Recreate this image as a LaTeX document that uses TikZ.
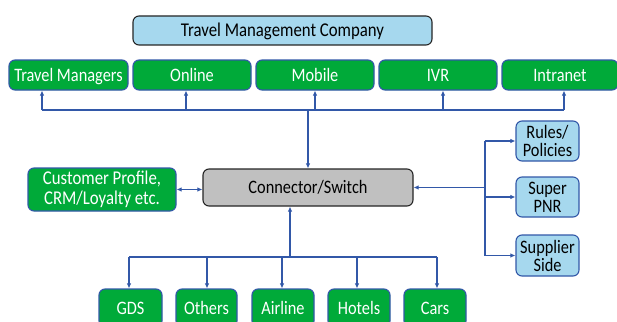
\documentclass[tikz,border=0pt]{standalone}
\usepackage{fontspec}
\setmainfont{Carlito}[FakeStretch=0.86]
\usetikzlibrary{arrows.meta}
\definecolor{gfill}{RGB}{0,170,57}
\definecolor{bline}{RGB}{50,88,168}
\definecolor{lblue}{RGB}{166,216,238}
\definecolor{gfillsw}{RGB}{192,192,192}
\tikzset{
  base/.style={rounded corners=6pt, line width=1.1pt, inner sep=0pt, align=center, font=\fontsize{19}{20}\selectfont},
  oneline/.style={text height=13pt, text depth=0.8pt},
  gbox/.style={base, fill=gfill, draw=bline, text=white},
  bbox/.style={base, fill=lblue, draw=bline, text=black},
  conn/.style={draw=bline, line width=1.1pt},
  arr/.style={conn, -{Latex[length=5pt,width=4.5pt]}},
  darr/.style={conn, {Latex[length=5pt,width=4.5pt]}-{Latex[length=5pt,width=4.5pt]}},
}
\begin{document}
\begin{tikzpicture}[x=1pt,y=-1pt]
\clip (0,0) rectangle (617,321);
\fill[white] (0,0) rectangle (617,321);
% top
\node[base, oneline, fill=lblue, draw=black!85, minimum width=299pt, minimum height=29pt, font=\fontsize{19.5}{20}\selectfont] (tmc) at (282.5,30.5) {Travel Management Company};
\node[gbox, oneline, minimum width=119pt, minimum height=30pt] (tm) at (68.5,75) {Travel Managers};
\node[gbox, oneline, minimum width=118pt, minimum height=30pt] (on) at (192,75) {Online};
\node[gbox, oneline, minimum width=118pt, minimum height=30pt] (mo) at (315,75) {Mobile};
\node[gbox, oneline, minimum width=118pt, minimum height=30pt] (ivr) at (438,75) {IVR};
\node[gbox, oneline, minimum width=116pt, minimum height=30pt] (intra) at (560,75) {Intranet};
% middle
\node[gbox, minimum width=148pt, minimum height=43pt, font=\fontsize{19.5}{20}\selectfont] (cust) at (102,189.5) {Customer Profile,\\CRM/Loyalty etc.};
\node[base, oneline, fill=gfillsw, draw=black!85, minimum width=210pt, minimum height=37pt] (sw) at (308,187.5) {Connector/Switch};
\node[bbox, minimum width=63pt, minimum height=40pt, font=\fontsize{19}{18}\selectfont] (rules) at (547.5,141) {Rules/\\Policies};
\node[bbox, minimum width=63pt, minimum height=40pt, font=\fontsize{19}{18}\selectfont] (super) at (547.5,197) {Super\\PNR};
\node[bbox, minimum width=63pt, minimum height=41pt, font=\fontsize{19}{18}\selectfont] (supp) at (547.5,255.5) {Supplier\\Side};
% bottom
\node[gbox, oneline, minimum width=63pt, minimum height=38pt] (gds) at (130.5,308) {GDS};
\node[gbox, oneline, minimum width=61pt, minimum height=38pt] (oth) at (206.5,308) {Others};
\node[gbox, oneline, minimum width=62pt, minimum height=38pt] (air) at (283,308) {Airline};
\node[gbox, oneline, minimum width=62pt, minimum height=38pt] (hot) at (359,308) {Hotels};
\node[gbox, oneline, minimum width=62pt, minimum height=38pt] (cars) at (435,308) {Cars};
% top bus
\coordinate (t1) at (42,110);
\coordinate (t2) at (186,110);
\coordinate (t3) at (315,110);
\coordinate (t4) at (443,110);
\coordinate (t5) at (564,110);
\draw[conn] (t1) -- (t5);
\draw[arr] (t1) -- (t1 |- tm.south);
\draw[arr] (t2) -- (t2 |- on.south);
\draw[arr] (t3) -- (t3 |- mo.south);
\draw[arr] (t4) -- (t4 |- ivr.south);
\draw[arr] (t5) -- (t5 |- intra.south);
\draw[arr] (sw.north |- t1) -- (sw.north);
% customer
\draw[darr] (cust.east) -- (cust.east -| sw.west);
% right
\coordinate (rv) at (485,187.5);
\draw[conn] (rv |- rules.west) -- (rv |- supp.west);
\draw[arr] (rv) -- (sw.east);
\draw[arr] (rv |- rules.west) -- (rules.west);
\draw[arr] (rv |- super.west) -- (super.west);
\draw[arr] (rv |- supp.west) -- (supp.west);
% bottom bus
\coordinate (bb) at (290,257);
\coordinate (b1) at (129,257);
\coordinate (b2) at (207,257);
\coordinate (b3) at (282,257);
\coordinate (b4) at (357,257);
\coordinate (b5) at (437,257);
\draw[conn] (b1) -- (b5);
\draw[arr] (bb) -- (bb |- sw.south);
\draw[arr] (b1) -- (b1 |- gds.north);
\draw[arr] (b2) -- (b2 |- oth.north);
\draw[arr] (b3) -- (b3 |- air.north);
\draw[arr] (b4) -- (b4 |- hot.north);
\draw[arr] (b5) -- (b5 |- cars.north);
\end{tikzpicture}
\end{document}
